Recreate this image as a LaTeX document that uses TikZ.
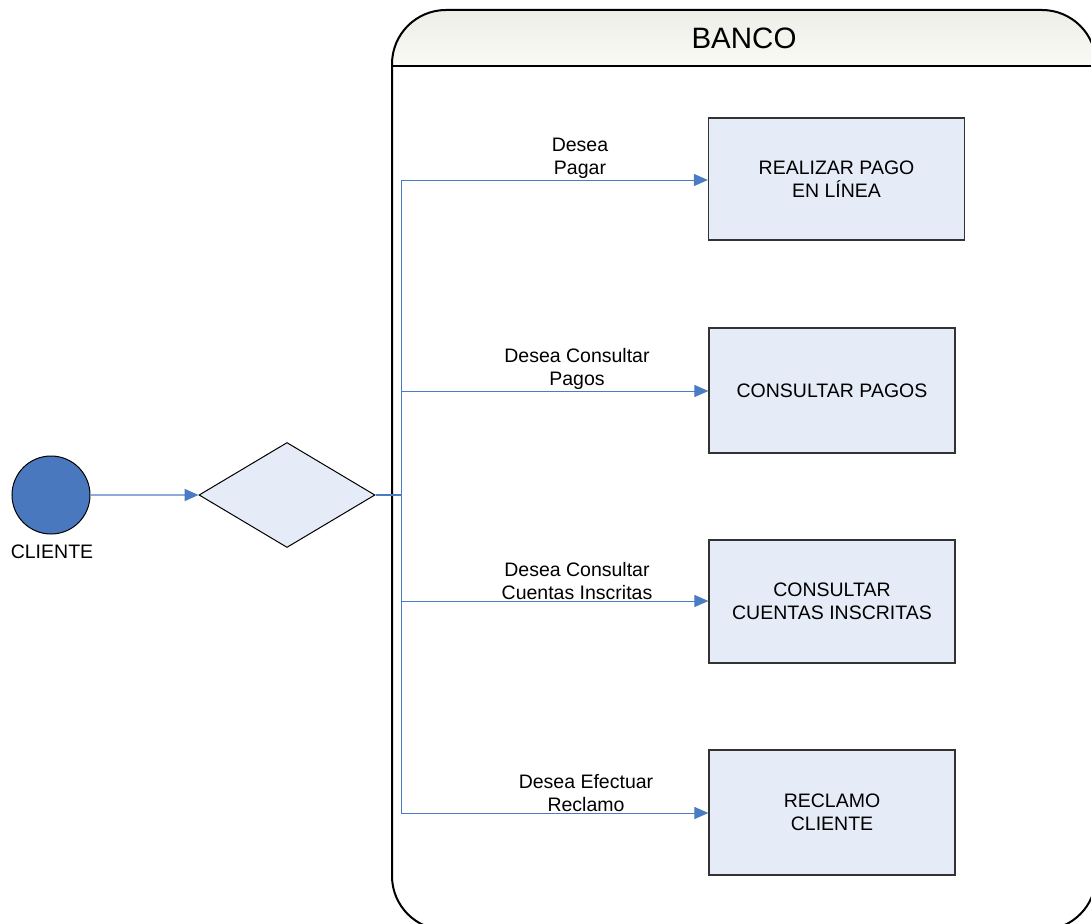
\documentclass[tikz,border=0pt]{standalone}
\usepackage{fontspec}
\setmainfont{Liberation Sans}
\usetikzlibrary{arrows.meta,shapes.geometric}
\definecolor{cblue}{HTML}{4A78BE}
\definecolor{lblue}{HTML}{E6ECF7}
\definecolor{flowblue}{HTML}{4A7CC4}
\definecolor{paleblue}{HTML}{8EAADB}
\definecolor{headtop}{HTML}{EDEEE6}
\definecolor{headbot}{HTML}{FAFAF6}
\tikzset{
  txt/.style={font=\fontsize{19.5}{23}\selectfont, align=center, text=black},
  stepbox/.style={draw=black!80, line width=1.2pt, fill=lblue, minimum width=#1, minimum height=124pt, inner sep=0pt, txt},
  flow/.style={draw=flowblue, line width=1pt},
  tip/.style={-{Triangle[length=14pt,width=12pt,color=flowblue,fill=flowblue]}},
  lbl/.style={txt, anchor=south, inner sep=0pt},
}
\begin{document}
\begin{tikzpicture}[x=1pt,y=-1pt]
\clip (0,0) rectangle (1091,923);
% container
\begin{scope}
  \clip[rounded corners=54pt] (392,10) rectangle (1096,930);
  \shade[top color=headtop, bottom color=headbot] (392,10) rectangle (1096,66);
\end{scope}
\draw[line width=2pt, rounded corners=54pt] (392,10) rectangle (1096,930);
\draw[line width=2pt] (392,66) -- (1096,66);
\node[font=\fontsize{29.5}{34}\selectfont] (banco) at (744,38) {BANCO};

% client
\node[circle, draw=black, line width=1pt, fill=cblue, minimum size=78pt, inner sep=0pt] (cli) at (51,495) {};
\node[txt, anchor=north, inner sep=0pt] (clilbl) at (52,545) {CLIENTE};

% decision
\node[diamond, draw=black, line width=1pt, fill=lblue, minimum width=176pt, minimum height=105pt, inner sep=0pt] (dec) at (287,495) {};

% boxes
\node[stepbox=256pt, minimum height=122pt] (b1) at (836.5,179) {REALIZAR PAGO\\EN LÍNEA};
\node[stepbox=246pt, minimum height=125pt] (b2) at (832,390.5) {CONSULTAR PAGOS};
\node[stepbox=246pt, minimum height=123pt] (b3) at (832,601.5) {CONSULTAR\\CUENTAS INSCRITAS};
\node[stepbox=246pt, minimum height=125pt] (b4) at (832,812.5) {RECLAMO\\CLIENTE};

% split coordinates
\coordinate (s0) at (401,495);
\coordinate (s1) at (401,180);
\coordinate (s2) at (401,391);
\coordinate (s3) at (401,601);
\coordinate (s4) at (401,813);

% connectors
\draw[draw=paleblue, line width=2pt, tip] (cli.east) -- (dec.west);
\draw[flow, line width=2pt] (dec.east) -- (s0);
\draw[flow] (s1) -- (s4);
\draw[flow, tip] (s1) -- (b1.west |- s1);
\draw[flow, tip] (s2) -- (b2.west |- s2);
\draw[flow, tip] (s3) -- (b3.west |- s3);
\draw[flow, tip] (s4) -- (b4.west |- s4);

% labels
\node[lbl] (l1) at (580,179) {Desea\\Pagar};
\node[lbl] (l2) at (577,390) {Desea Consultar\\Pagos};
\node[lbl] (l3) at (577,600) {Desea Consultar\\Cuentas Inscritas};
\node[lbl] (l4) at (586,812) {Desea Efectuar\\Reclamo};
\end{tikzpicture}
\end{document}
